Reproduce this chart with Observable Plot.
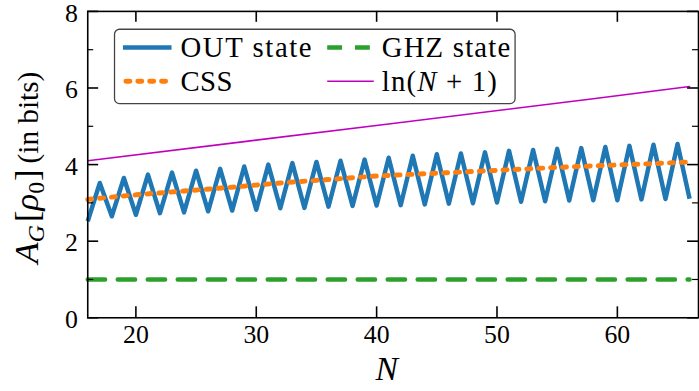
<!DOCTYPE html>
<html><head><meta charset="utf-8">
<script src="https://cdn.jsdelivr.net/npm/d3@7"></script>
<script src="https://cdn.jsdelivr.net/npm/@observablehq/plot@0.6"></script>
<style>
html,body{margin:0;padding:0;background:#fff;overflow:hidden;}
#wrap{width:699px;height:391px;overflow:hidden;position:relative;}
#wrap svg, #wrap svg text{font-family:"Liberation Serif","DejaVu Serif",serif !important;}
</style></head><body><div id="wrap"></div>
<script>
// ---- data ----
const outN = [16,17,18,19,20,21,22,23,24,25,26,27,28,29,30,31,32,33,34,35,36,37,38,39,40,41,42,43,44,45,46,47,48,49,50,51,52,53,54,55,56,57,58,59,60,61,62,63,64,65,66];
const outValues = [2.52,3.52,2.65,3.65,2.69,3.74,2.73,3.79,2.75,3.84,2.78,3.89,2.80,3.95,2.82,4.00,2.86,4.04,2.87,4.07,2.90,4.10,2.92,4.13,2.93,4.18,2.94,4.23,2.96,4.27,2.98,4.29,2.99,4.32,3.01,4.36,3.03,4.38,3.04,4.41,3.06,4.43,3.07,4.46,3.07,4.49,3.09,4.52,3.10,4.54,3.11];
const cssN = [16,20,24,28,32,36,40,44,48,52,56,60,64,66];
const cssValues = [3.09,3.21,3.31,3.41,3.52,3.61,3.70,3.76,3.82,3.88,3.94,3.99,4.04,4.07];
const ghzN = [16,66];
const ghzValues = [1,1];
const lnN = [16,29,41,58,66];
const lnValues = [4.10,4.60,5.06,5.72,6.04];
const xTicks = [20,30,40,50,60];
const yTicks = [0,2,4,6,8];
const yMinorTicks = [1,3,5,7];
const legendLabels = ["OUT state","GHZ state","CSS","ln(N + 1)"];
const legendColors = ["#1f77b4","#2ca02c","#ff7f0e","#bf00bf"];

const toRows = (ns, vs) => ns.map((n,i) => ({N:n, v:vs[i]}));
const out = toRows(outN, outValues);
const css = toRows(cssN, cssValues);
const ghz = toRows(ghzN, ghzValues);
const lnl = toRows(lnN, lnValues);

const FONT = '"Liberation Serif","DejaVu Serif",serif';
const W = 705, H = 391, mL = 88, mR = 1, mT = 11, mB = 71;
const fw = W - mL - mR, fh = H - mT - mB;
const pxPerUnit = 12.14;

const chart = Plot.plot({
  width: W, height: H,
  marginLeft: mL, marginRight: mR, marginTop: mT, marginBottom: mB,
  style: {fontFamily: FONT, fontSize: "26px", background: "white", color: "black"},
  x: {domain: [16, 16 + fw / pxPerUnit]},
  y: {domain: [0, 8]},
  marks: [
    Plot.axisX(xTicks, {tickSize: 0, tickPadding: 7, label: null, fontSize: 26}),
    Plot.axisY(yTicks, {tickSize: 0, tickPadding: 10, dy: 2, label: null, fontSize: 26}),
    Plot.line(out, {x: "N", y: "v", stroke: legendColors[0], strokeWidth: 4.5, strokeLinejoin: "round", strokeLinecap: "butt"}),
    Plot.line(ghz, {x: "N", y: "v", stroke: legendColors[1], strokeWidth: 4.5, strokeDasharray: "17.5,12.75"}),
    Plot.line(css, {x: "N", y: "v", stroke: legendColors[2], strokeWidth: 5, strokeDasharray: "4,8", strokeLinecap: "round", curve: "monotone-x"}),
    Plot.line(lnl, {x: "N", y: "v", stroke: legendColors[3], strokeWidth: 1.6}),
    Plot.ruleY(yTicks, {insetRight: fw - 11, stroke: "black", strokeWidth: 1.6}),
    Plot.ruleY(yTicks, {insetLeft: fw - 11, stroke: "black", strokeWidth: 1.6}),
    Plot.ruleY(yMinorTicks, {insetRight: fw - 6, stroke: "black", strokeWidth: 1.2}),
    Plot.ruleY(yMinorTicks, {insetLeft: fw - 6, stroke: "black", strokeWidth: 1.2}),
    Plot.ruleX(xTicks, {insetTop: fh - 11, stroke: "black", strokeWidth: 1.6}),
    Plot.ruleX(xTicks, {insetBottom: fh - 11, stroke: "black", strokeWidth: 1.6}),
    Plot.frame({stroke: "black", strokeWidth: 1.6})
  ]
});
document.getElementById("wrap").appendChild(chart);

const svg = d3.select(chart);

// y axis label
const yl = svg.append("text")
  .attr("transform", "translate(38,169) rotate(-90)")
  .attr("text-anchor", "middle")
  .attr("fill", "black")
  .attr("font-family", FONT)
  .attr("font-size", 35);
yl.append("tspan").attr("font-style", "italic").text("A");
yl.append("tspan").attr("font-style", "italic").attr("font-size", 24).attr("dy", 6).text("G");
yl.append("tspan").attr("dy", -6).attr("dx", 3).text("[");
yl.append("tspan").attr("font-style", "italic").text("ρ");
yl.append("tspan").attr("font-size", 24).attr("dy", 6).text("0");
yl.append("tspan").attr("dy", -6).attr("dx", 1).text("]");
yl.append("tspan").attr("dx", 6).attr("font-size", 29.5).text("(in bits)");

// x axis label
svg.append("text")
  .attr("x", 390).attr("y", 383)
  .attr("text-anchor", "middle")
  .attr("fill", "black")
  .attr("font-family", FONT)
  .attr("font-size", 34)
  .attr("font-style", "italic")
  .text("N");

// legend
const lg = svg.append("g").attr("font-family", FONT).attr("font-size", 29).attr("text-anchor", "start");
lg.append("rect").attr("x", 115.5).attr("y", 29.5).attr("width", 404).attr("height", 75).attr("rx", 5)
  .attr("fill", "white").attr("fill-opacity", 0.85).attr("stroke", "#444").attr("stroke-width", 1.3);
const rowsY = [48, 82];
const entries = [
  {hx: 124, len: 49, tx: 182, row: 0, dash: null, w: 4.5, cap: "butt", ls: 1.6},
  {hx: 330, len: 45, tx: 385, row: 0, dash: "15,13", w: 4.5, cap: "butt", ls: 1.2},
  {hx: 127, len: 40, tx: 182, row: 1, dash: "4,8", w: 5, cap: "round", ls: 0.5},
  {hx: 330, len: 47, tx: 385, row: 1, dash: null, w: 1.6, cap: "butt", ls: 1.2}
];
entries.forEach((e, i) => {
  const y = rowsY[e.row];
  lg.append("line").attr("x1", e.hx).attr("x2", e.hx + e.len).attr("y1", y).attr("y2", y)
    .attr("stroke", legendColors[i]).attr("stroke-width", e.w)
    .attr("stroke-dasharray", e.dash).attr("stroke-linecap", e.cap);
  const t = lg.append("text").attr("x", e.tx).attr("y", y + 9.5).attr("fill", "black")
    .attr("text-anchor", "start").style("letter-spacing", e.ls + "px");
  if (i === 3) {
    t.append("tspan").text("ln(");
    t.append("tspan").attr("font-style", "italic").text("N");
    t.append("tspan").text(" + 1)");
  } else {
    t.text(legendLabels[i]);
  }
});
</script></body></html>
